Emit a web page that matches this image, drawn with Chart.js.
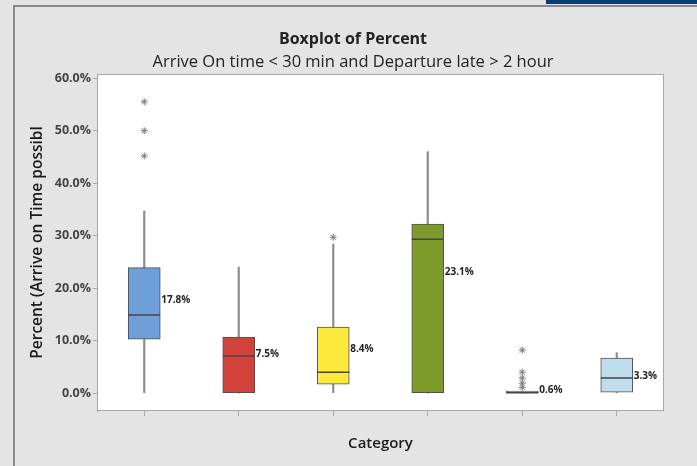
<!DOCTYPE html>
<html>
<head>
<meta charset="utf-8">
<script src="https://cdn.jsdelivr.net/npm/chart.js@4.4.1/dist/chart.umd.min.js"></script>
<style>
  html, body { margin: 0; padding: 0; background: #e4e4e4; }
  #wrap { width: 697px; height: 466px; }
</style>
</head>
<body>
<div id="wrap"><canvas id="boxChart"></canvas></div>
<script>
// category names are not legible in the source image
const categories = ["C1", "C2", "C3", "C4", "C5", "C6"];
const whiskerLow = [0, 0, 0, 0, 0, 0];
const q1 = [10.3, 0, 1.7, 0, 0, 0.2];
const median = [14.9, 7.1, 4.0, 29.3, 0.1, 2.9];
const q3 = [23.9, 10.7, 12.6, 32.2, 0.4, 6.7];
const whiskerHigh = [34.7, 24.0, 28.4, 46.0, 0.4, 7.7];
const means = [17.8, 7.5, 8.4, 23.1, 0.6, 3.3];
const outliers = [
    { x: "C1", y: 55.5 }, { x: "C1", y: 50.0 }, { x: "C1", y: 45.2 },
    { x: "C3", y: 29.7 },
    { x: "C5", y: 8.2 }, { x: "C5", y: 4.0 }, { x: "C5", y: 2.9 }, { x: "C5", y: 1.9 }, { x: "C5", y: 1.1 }
];
const yTicks = [0, 10, 20, 30, 40, 50, 60];
const boxColors = ["#6f9fd9", "#d1423b", "#fde93c", "#7c9b2b", "#6a6a6a", "#bfdded"];

const FONT = "'Open Sans', 'Noto Sans', sans-serif";
const Y_MIN = -3.4, Y_MAX = 60.8;

// plot frame taken from the same mapping the marks use
function plotBox(chart) {
    const xs = chart.scales.x, ys = chart.scales.y;
    return {
        left: Math.round(xs.getPixelForValue(-0.5)),
        right: Math.round(xs.getPixelForValue(categories.length - 0.5)),
        top: Math.round(ys.getPixelForValue(Y_MAX)),
        bottom: Math.round(ys.getPixelForValue(Y_MIN))
    };
}

const backdrop = {
    id: "backdrop",
    beforeDraw(chart) {
        const ctx = chart.ctx;
        const a = plotBox(chart);
        ctx.save();
        ctx.fillStyle = "#e4e4e4";
        ctx.fillRect(0, 0, chart.width, chart.height);
        ctx.fillStyle = "#0b3b72";
        ctx.fillRect(546, 0, chart.width - 546, 4);
        ctx.strokeStyle = "#8a8a8a";
        ctx.lineWidth = 2;
        ctx.beginPath();
        ctx.moveTo(14, chart.height);
        ctx.lineTo(14, 6);
        ctx.lineTo(chart.width, 6);
        ctx.stroke();
        ctx.fillStyle = "#ffffff";
        ctx.fillRect(a.left, a.top, a.right - a.left, a.bottom - a.top);
        ctx.restore();
    },
    afterDraw(chart) {
        const ctx = chart.ctx;
        const a = plotBox(chart);
        ctx.save();
        ctx.strokeStyle = "#a8a8a8";
        ctx.lineWidth = 1;
        ctx.strokeRect(a.left + 0.5, a.top + 0.5, a.right - a.left - 1, a.bottom - a.top - 1);
        ctx.restore();
    }
};

const meanLabels = {
    id: "meanLabels",
    afterDatasetsDraw(chart) {
        const ctx = chart.ctx;
        const xs = chart.scales.x, ys = chart.scales.y;
        ctx.save();
        ctx.font = "bold 10px " + FONT;
        ctx.fillStyle = "#222";
        ctx.textAlign = "left";
        ctx.textBaseline = "middle";
        means.forEach((m, i) => {
            ctx.fillText(m.toFixed(1) + "%", xs.getPixelForValue(i) + 17, ys.getPixelForValue(m));
        });
        ctx.restore();
    }
};

new Chart(document.getElementById("boxChart"), {
    type: "bar",
    data: {
        labels: categories,
        datasets: [
            {
                label: "Box",
                data: categories.map((c, i) => [q1[i], q3[i]]),
                backgroundColor: boxColors,
                borderColor: "#505050",
                borderWidth: 1,
                borderSkipped: false,
                barThickness: 32,
                grouped: false,
                order: 2
            },
            {
                label: "Lower whisker",
                data: categories.map((c, i) => [whiskerLow[i], q1[i]]),
                backgroundColor: "#8c8c8c",
                barThickness: 1.5,
                grouped: false,
                order: 3
            },
            {
                label: "Upper whisker",
                data: categories.map((c, i) => [q3[i], whiskerHigh[i]]),
                backgroundColor: "#8c8c8c",
                barThickness: 1.5,
                grouped: false,
                order: 3
            },
            {
                type: "line",
                label: "Median",
                data: median,
                showLine: false,
                pointStyle: "line",
                pointRadius: 16,
                pointHoverRadius: 16,
                borderColor: "#444",
                borderWidth: 1.5,
                order: 1
            },
            {
                type: "line",
                label: "Outliers",
                data: outliers,
                showLine: false,
                pointStyle: "star",
                pointRadius: 3.5,
                borderColor: "#7a7a7a",
                borderWidth: 1,
                order: 0
            }
        ]
    },
    options: {
        responsive: true,
        maintainAspectRatio: false,
        animation: false,
        layout: { padding: { left: 14, right: 5, top: 0, bottom: 8 } },
        plugins: {
            legend: { display: false },
            tooltip: { enabled: false },
            title: {
                display: true,
                text: "Boxplot of Percent",
                color: "#222",
                font: { family: FONT, size: 16, weight: "bold" },
                padding: { top: 30, bottom: 3 }
            },
            subtitle: {
                display: true,
                text: "Arrive On time < 30 min and Departure late > 2 hour",
                color: "#222",
                font: { family: FONT, size: 16.5 },
                padding: { top: 0, bottom: 2 }
            }
        },
        scales: {
            x: {
                afterFit: s => { s.height = 47; },
                grid: { offset: false, drawOnChartArea: false, drawTicks: true, tickLength: 5, color: "#a8a8a8" },
                border: { display: false },
                ticks: { callback: () => "" },
                title: {
                    display: true,
                    text: "Category",
                    color: "#1a1a1a",
                    font: { family: FONT, size: 15, weight: "600" },
                    padding: { top: 0, bottom: 5 }
                }
            },
            y: {
                min: Y_MIN,
                max: Y_MAX,
                afterFit: s => { s.width = 83; },
                afterBuildTicks: s => { s.ticks = yTicks.map(v => ({ value: v })); },
                grid: { drawOnChartArea: false, drawTicks: true, tickLength: 4, color: "#a8a8a8" },
                border: { display: true, color: "#a8a8a8" },
                ticks: {
                    padding: 2,
                    color: "#444",
                    font: { family: FONT, size: 12.5, weight: "bold" },
                    callback: v => v.toFixed(1) + "%"
                },
                title: {
                    display: true,
                    text: "Percent (Arrive on Time possibl",
                    color: "#1a1a1a",
                    font: { family: FONT, size: 15.5, weight: "600" },
                    padding: { top: 14, bottom: 0 }
                }
            },
            // empty right-hand axis that only reserves the margin beside the plot
            yRight: {
                position: "right",
                afterFit: s => { s.width = 28; },
                grid: { display: false },
                border: { display: false },
                ticks: { display: false }
            }
        }
    },
    plugins: [backdrop, meanLabels]
});
</script>
</body>
</html>
